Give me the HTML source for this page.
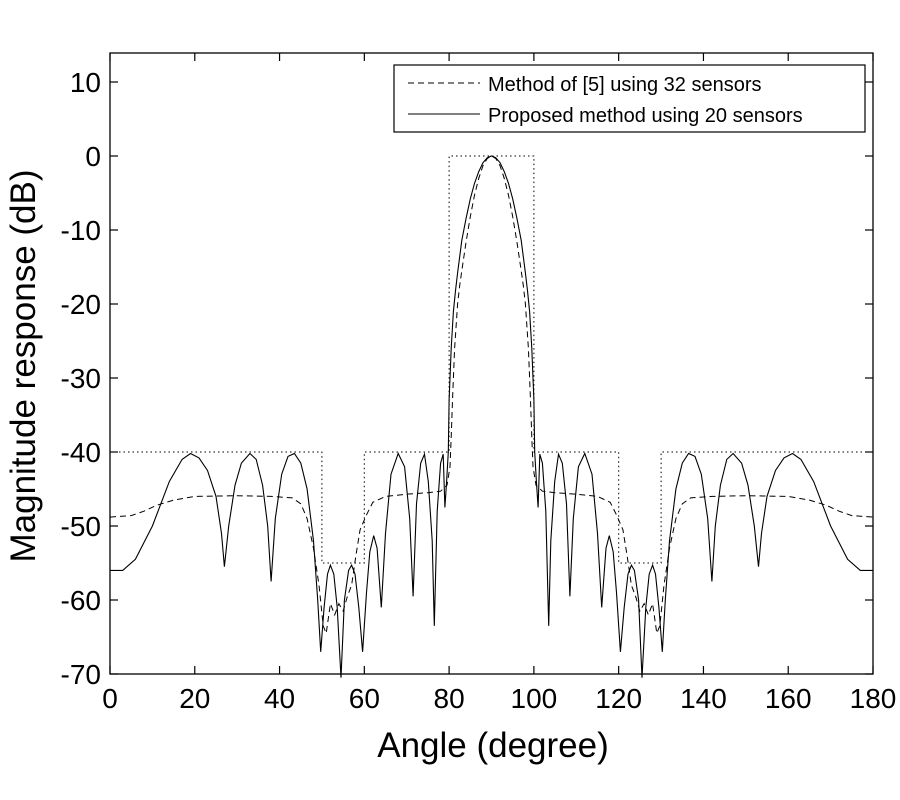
<!DOCTYPE html>
<html><head><style>body{margin:0;background:#fff}svg{display:block}</style></head><body>
<svg id="s" width="900" height="800" xmlns="http://www.w3.org/2000/svg" font-family="Liberation Sans, sans-serif">
<rect width="900" height="800" fill="#fff"/>
<g id="ticks" stroke="#000" stroke-width="1.2"></g>
<g id="lbl" font-size="28" fill="#000"></g>
<path id="mask" fill="none" stroke="#000" stroke-width="1" stroke-dasharray="1.5,3"/>
<path id="dash" fill="none" stroke="#000" stroke-width="1" stroke-dasharray="6,4"/>
<path id="solid" fill="none" stroke="#000" stroke-width="1.1"/>
<rect x="110" y="53" width="763" height="621" fill="none" stroke="#000" stroke-width="1.3"/>
<rect x="394" y="65" width="471" height="67" fill="#fff" stroke="#000" stroke-width="1.2"/>
<line x1="408" y1="83" x2="480" y2="83" stroke="#000" stroke-dasharray="6,4"/>
<line x1="408" y1="114" x2="480" y2="114" stroke="#000"/>
<text x="488" y="91" font-size="20">Method of [5] using 32 sensors</text>
<text x="488" y="122" font-size="20">Proposed method using 20 sensors</text>
<text x="493" y="757" font-size="35" text-anchor="middle">Angle (degree)</text>
<text transform="translate(35,366) rotate(-90)" font-size="35" text-anchor="middle">Magnitude response (dB)</text>
</svg>
<script>
const X=a=>110+a*763/180, Y=d=>156-d*7.4;
const solid=[[0,-56],[3,-56],[6,-54.5],[10,-50],[14,-44],[17,-41],[19,-40.2],[21,-40.8],[23,-42.5],[25,-46],[26.3,-51],[27,-55.5],[28,-50],[29.5,-44.5],[31,-41.5],[33,-40.2],[34.5,-41],[36,-44.5],[37.2,-50],[38,-57.5],[39,-49],[40.5,-43],[42,-40.6],[43.5,-40.2],[45,-41.5],[46.5,-45],[48,-52],[49,-60],[49.7,-67],[50.5,-61],[51.3,-56.5],[52,-55.3],[52.8,-56.5],[53.6,-61],[54.5,-70.5],[55.3,-60],[56.3,-56],[57,-55.3],[57.8,-56.5],[58.7,-61],[59.6,-67],[60.5,-59],[61.3,-53.5],[62.2,-51.3],[63,-53],[64,-61],[65,-51],[66.3,-43],[68,-40.2],[69.5,-42],[70.7,-49],[71.5,-59.5],[72.3,-47],[73.3,-41.5],[74.2,-40.3],[75.1,-44],[76,-52],[76.5,-63.5],[77.2,-48],[78,-41.5],[78.6,-40.3],[79,-47.5],[79.4,-44],[79.8,-40],[80,-33],[80.5,-26],[81,-21],[81.5,-18.2],[82,-15.8],[83,-11.4],[84,-8.4],[85,-5.8],[86,-3.7],[87,-2.1],[88,-0.9],[89,-0.23],[90,0]];
const dash=[[0,-48.8],[5,-48.6],[8,-48],[11,-47.2],[15,-46.5],[20,-46],[30,-45.9],[38,-46],[43,-46.2],[45,-47],[46.5,-49],[48,-53],[49.3,-58],[50.3,-63.5],[51,-64.5],[52,-60.5],[53,-62],[54,-60.5],[55,-61.5],[56,-59.5],[57,-58],[58,-54],[59,-50.5],[60.5,-48.5],[62,-46.8],[65,-46],[70,-45.7],[75,-45.5],[78,-45.3],[79.5,-44.5],[80.2,-42],[80.5,-38],[80.8,-33],[81.3,-26],[82,-20],[82.5,-17.5],[83,-15.5],[84,-11.6],[85,-8.2],[86,-5.3],[87,-3],[88,-1.3],[89,-0.33],[90,0]];
function mir(p){const r=p.slice();for(let i=p.length-2;i>=0;i--)r.push([180-p[i][0],p[i][1]]);return r}
function path(p){return p.map((q,i)=>(i?'L':'M')+X(q[0]).toFixed(1)+' '+Y(Math.max(q[1],-70.5)).toFixed(1)).join(' ')}
document.getElementById('solid').setAttribute('d',path(mir(solid)));
document.getElementById('dash').setAttribute('d',path(mir(dash)));
const m=[[0,-40],[50,-40],[50,-55],[60,-55],[60,-40],[80,-40],[80,0],[90,0]];
const mm=m.slice();for(let i=m.length-2;i>=0;i--)mm.push([180-m[i][0],m[i][1]]);
document.getElementById('mask').setAttribute('d',path(mm));
const t=document.getElementById('ticks'),l=document.getElementById('lbl');
let h='',lh='';
for(let a=0;a<=180;a+=20){const x=X(a);h+=`<line x1="${x}" y1="674" x2="${x}" y2="666"/><line x1="${x}" y1="53" x2="${x}" y2="61"/>`;lh+=`<text x="${x}" y="708" text-anchor="middle">${a}</text>`}
for(let d=10;d>=-70;d-=10){const y=Y(d);h+=`<line x1="110" y1="${y}" x2="118" y2="${y}"/><line x1="873" y1="${y}" x2="865" y2="${y}"/>`;lh+=`<text x="101" y="${y+10}" text-anchor="end">${d}</text>`}
t.innerHTML=h;l.innerHTML=lh;
</script>
</body></html>
